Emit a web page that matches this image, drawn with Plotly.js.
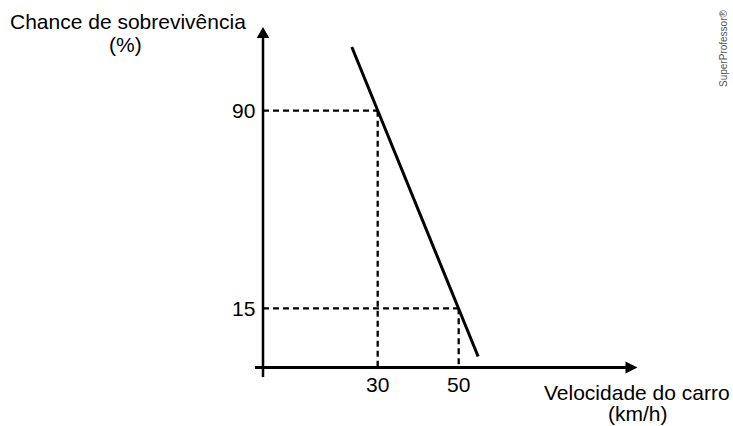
<!DOCTYPE html>
<html>
<head>
<meta charset="utf-8">
<script src="https://cdn.plot.ly/plotly-3.0.1.min.js"></script>
<style>
  html, body { margin: 0; padding: 0; background: #fff; }
  #chart { width: 733px; height: 426px; }
</style>
</head>
<body>
<div id="chart"></div>
<script>
// ---- data ----
const lineX = [23.6, 54.8];        // velocidade (km/h)
const lineY = [114.2, -3.3];       // chance de sobrevivência (%)
const markX = [30, 50];            // marked speeds
const markY = [90, 15];            // corresponding survival chances
const xTickVals = [30, 50];
const xTickText = ['30', '50'];
const yTickVals = [90, 15];
const yTickText = ['90', '15'];
const yTitleLines = ['Chance de sobrevivência', '(%)'];
const xTitleLines = ['Velocidade do carro', '(km/h)'];
const watermark = 'SuperProfessor®';

// ---- geometry (styling only) ----
const X0 = 1.68, Y0 = -7.47;           // where the axes cross
const XMIN = -0.3, XMAX = 94.15;       // x-axis extent (arrow tip)
const YMIN = -11.07, YMAX = 121.77;    // y-axis extent (arrow tip)
const FONT = 'Liberation Sans, Arial, Helvetica, sans-serif';

const shapes = [];
// axes
shapes.push({type: 'line', x0: XMIN, x1: XMAX - 2.5, y0: Y0, y1: Y0,
             line: {color: '#000', width: 3}});
shapes.push({type: 'line', x0: X0, x1: X0, y0: YMIN, y1: YMAX - 3.5,
             line: {color: '#000', width: 2.5}});
// arrowheads
const ax = 2.96, ah = 2.28;   // x-arrow length / half height (data units)
shapes.push({type: 'path', fillcolor: '#000', line: {width: 0},
  path: `M ${XMAX} ${Y0} L ${XMAX - ax} ${Y0 + ah} L ${XMAX - ax} ${Y0 - ah} Z`});
const ay = 4.17, aw = 1.55;   // y-arrow length / half width
shapes.push({type: 'path', fillcolor: '#000', line: {width: 0},
  path: `M ${X0} ${YMAX} L ${X0 - aw} ${YMAX - ay} L ${X0 + aw} ${YMAX - ay} Z`});
// dashed guide lines
for (let i = 0; i < markX.length; i++) {
  shapes.push({type: 'line', x0: X0, x1: markX[i], y0: markY[i], y1: markY[i],
               line: {color: '#000', width: 2.3, dash: '6px,4px'}});
  shapes.push({type: 'line', x0: markX[i], x1: markX[i], y0: markY[i], y1: Y0,
               line: {color: '#000', width: 2.3, dash: '6px,4px'}});
}

const annotations = [];
const tf = {family: FONT, size: 21, color: '#000'};
xTickVals.forEach((v, i) => annotations.push({
  x: v, y: Y0, xref: 'x', yref: 'y', text: xTickText[i], showarrow: false,
  xanchor: 'center', yanchor: 'top', yshift: -3, font: tf}));
yTickVals.forEach((v, i) => annotations.push({
  x: X0, y: v, xref: 'x', yref: 'y', text: yTickText[i], showarrow: false,
  xanchor: 'right', yanchor: 'middle', xshift: -6, font: tf}));
annotations.push({xref: 'paper', yref: 'paper', x: 128 / 733, y: 1 - 21 / 426,
  text: yTitleLines[0], showarrow: false, xanchor: 'center', yanchor: 'middle', font: tf});
annotations.push({xref: 'paper', yref: 'paper', x: 125 / 733, y: 1 - 44 / 426,
  text: yTitleLines[1], showarrow: false, xanchor: 'center', yanchor: 'middle', font: tf});
annotations.push({xref: 'paper', yref: 'paper', x: 636.5 / 733, y: 1 - 392 / 426,
  text: xTitleLines[0], showarrow: false, xanchor: 'center', yanchor: 'middle', font: tf});
annotations.push({xref: 'paper', yref: 'paper', x: 638 / 733, y: 1 - 413 / 426,
  text: xTitleLines[1], showarrow: false, xanchor: 'center', yanchor: 'middle', font: tf});
annotations.push({xref: 'paper', yref: 'paper', x: 723 / 733, y: 1 - 49 / 426,
  text: watermark, showarrow: false, textangle: -90, xanchor: 'center', yanchor: 'middle',
  font: {family: FONT, size: 10, color: '#555'}});

const traces = [{
  type: 'scatter', mode: 'lines', x: lineX, y: lineY,
  line: {color: '#000', width: 3}, hoverinfo: 'skip', showlegend: false
}];

const layout = {
  width: 733, height: 426,
  margin: {l: 0, r: 0, t: 0, b: 0, pad: 0},
  paper_bgcolor: '#fff', plot_bgcolor: '#fff',
  showlegend: false,
  xaxis: {range: [-63.26, 117.73], visible: false, fixedrange: true},
  yaxis: {range: [-29.67, 132.02], visible: false, fixedrange: true},
  shapes: shapes,
  annotations: annotations
};

Plotly.newPlot('chart', traces, layout, {staticPlot: true, displayModeBar: false});
</script>
</body>
</html>
